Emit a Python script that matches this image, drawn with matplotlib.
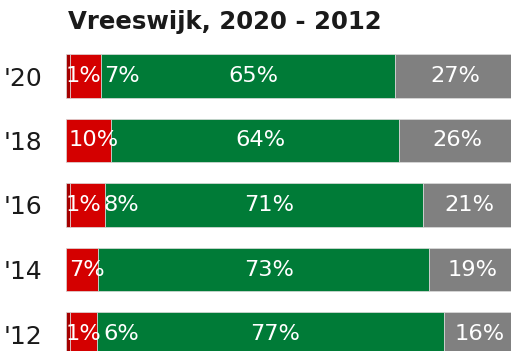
import matplotlib
matplotlib.use("Agg")
import matplotlib.pyplot as plt
from matplotlib.transforms import offset_copy

plt.rcParams['font.family'] = ['DejaVu Sans']

title = "Vreeswijk, 2020 - 2012"
years = ["'20", "'18", "'16", "'14", "'12"]
dark_red = [0.9, 0.0, 0.9, 0.0, 0.9]
red = [6.9, 9.9, 7.8, 7.2, 6.0]
green = [65.3, 64.2, 70.7, 73.45, 77.1]
gray = [26.9, 25.9, 20.6, 19.35, 16.0]

series = [dark_red, red, green, gray]
colors = ['#A50000', '#D40000', '#007B37', '#808080']

W, H = 511, 351
fig = plt.figure(figsize=(W / 100, H / 100), dpi=100)
left_px = 66
px_per_pct = 4.5
ax = fig.add_axes([left_px / W, 0, 1 - left_px / W, 1])
ax.set_xlim(0, (W - left_px) / px_per_pct)
spacing = 64.5
ax.set_ylim((H - 76) / spacing, -76 / spacing)

ypos = list(range(len(years)))
bar_h = 0.675
lefts = [0.0] * len(years)
seg_info = []
for s_idx, (vals, col) in enumerate(zip(series, colors)):
    ax.barh(ypos, vals, left=lefts, height=bar_h, color=col,
            edgecolor='#dcdcdc', linewidth=0.5)
    for i, v in enumerate(vals):
        if v > 0:
            seg_info.append((i, s_idx, lefts[i], v))
    lefts = [l + v for l, v in zip(lefts, vals)]

ax.set_yticks(ypos)
ax.set_yticklabels(years, fontsize=18, color='#1a1a1a')
ax.tick_params(axis='y', length=0, pad=17)
ax.tick_params(axis='x', bottom=False, labelbottom=False)
for sp in ax.spines.values():
    sp.set_visible(False)

fig.text(68 / W, 1 - 22.5 / H, title, fontsize=17.6, fontweight='bold',
         color='#1a1a1a', ha='left', va='center')

# labels
texts = {}
for (i, s_idx, start, v) in seg_info:
    dx = 0 if s_idx == 3 else 5
    t = ax.text(start + v / 2, i, f"{round(v)}%", ha='center', va='center',
                fontsize=16.2, color='white',
                transform=offset_copy(ax.transData, fig=fig, x=dx, y=0, units='dots'))
    texts.setdefault(i, []).append([t, dx])

fig.canvas.draw()
renderer = fig.canvas.get_renderer()
bar_start_px = ax.transData.transform((0, 0))[0]
for i, lst in texts.items():
    prev_right = bar_start_px - 3
    for item in lst:
        t, dx = item
        bb = t.get_window_extent(renderer)
        shift = 0
        if bb.x0 < prev_right + 2.5:
            shift = prev_right + 2.5 - bb.x0
        if shift:
            item[1] = dx + shift
            t.set_transform(offset_copy(ax.transData, fig=fig, x=item[1], y=0, units='dots'))
            bb = t.get_window_extent(renderer)
        prev_right = bb.x1

fig.savefig("out.png", dpi=100)
